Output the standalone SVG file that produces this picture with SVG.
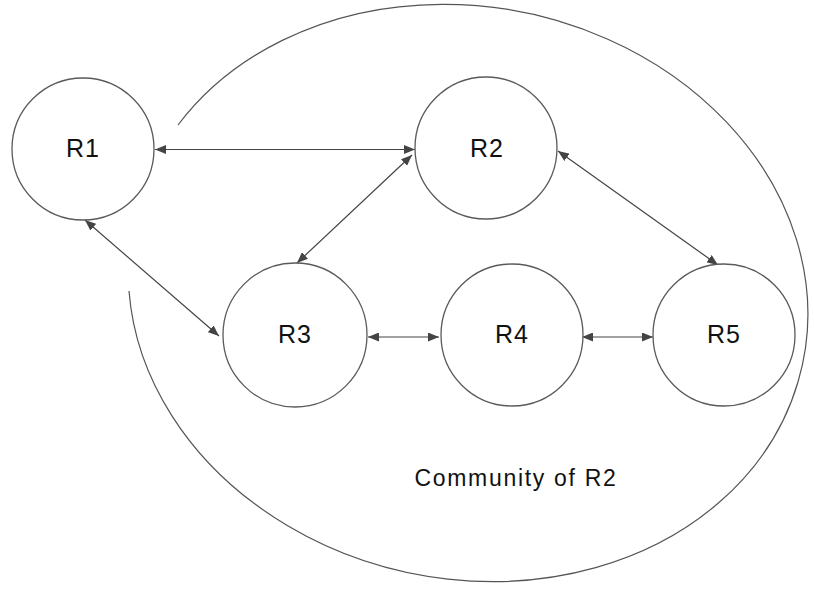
<svg xmlns="http://www.w3.org/2000/svg" width="814" height="590" viewBox="0 0 814 590">
<style>
.node{fill:#fff;stroke:#5a5a5a;stroke-width:1.3}
.lbl{font-family:"Liberation Sans",Arial,sans-serif;font-size:25px;fill:#111;text-anchor:middle;letter-spacing:1px}
.conn{stroke:#444;stroke-width:1.2;fill:none;marker-start:url(#ah);marker-end:url(#ah)}
.comm{fill:none;stroke:#555;stroke-width:1.2}
</style>
<defs>
<marker id="ah" viewBox="0 0 11 9" refX="11" refY="4.5" markerWidth="11" markerHeight="9" markerUnits="userSpaceOnUse" orient="auto-start-reverse">
<path d="M0,0 L11,4.5 L0,9 Z" fill="#444"/>
</marker>
</defs>
<rect width="814" height="590" fill="#fff"/>
<g id="community">
<path class="comm" d="M178,125 A342 286 12 1 1 129,291"/>
<text x="516" y="486" style="font-family:'Liberation Sans',Arial,sans-serif;font-size:23px;fill:#111;text-anchor:middle;letter-spacing:1.7px">Community of R2</text>
</g>
<g id="connectors">
<line class="conn" x1="155" y1="149.5" x2="415" y2="149.5"/>
<line class="conn" x1="412" y1="155" x2="297" y2="263"/>
<line class="conn" x1="85" y1="220" x2="219" y2="336"/>
<line class="conn" x1="558" y1="151" x2="718" y2="265"/>
<line class="conn" x1="368" y1="337" x2="439" y2="337"/>
<line class="conn" x1="582" y1="337" x2="653" y2="337"/>
</g>
<g id="R1"><circle class="node" cx="83" cy="149" r="71"/><text class="lbl" x="83" y="157">R1</text></g>
<g id="R2"><circle class="node" cx="486" cy="148" r="71"/><text class="lbl" x="487" y="157">R2</text></g>
<g id="R3"><circle class="node" cx="295" cy="335" r="72"/><text class="lbl" x="295" y="343">R3</text></g>
<g id="R4"><circle class="node" cx="512" cy="335" r="71"/><text class="lbl" x="512" y="343">R4</text></g>
<g id="R5"><circle class="node" cx="724" cy="335" r="71"/><text class="lbl" x="724" y="343">R5</text></g>
</svg>
